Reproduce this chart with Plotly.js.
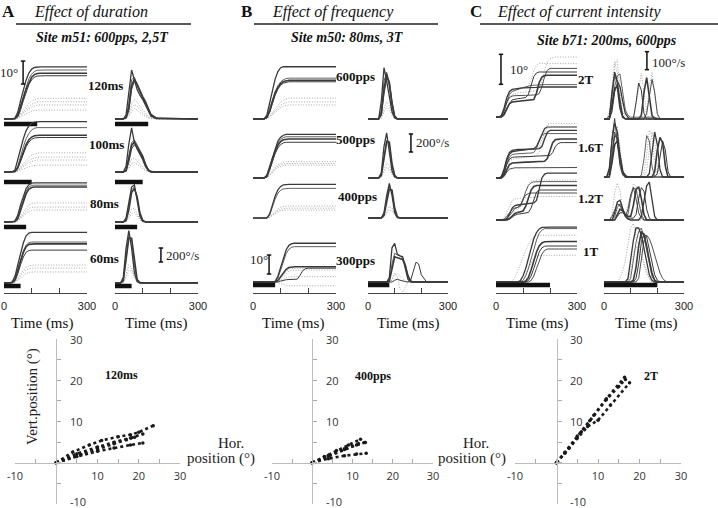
<!DOCTYPE html>
<html><head><meta charset="utf-8">
<script src="https://cdn.plot.ly/plotly-3.0.1.min.js"></script>
<style>html,body{margin:0;padding:0;background:#fff}#chart{width:718px;height:508px}</style>
</head><body><div id="chart"></div>
<script>
// ---------------- DATA ----------------
const tA = [0,20,30,40,50,60,70,80,90,100,110,120,130,150,300];
const tB300 = [0,20,40,60,70,80,90,100,110,120,130,140,150,160,170,180,190,200,220,300];
const tC = [0,10,20,30,40,50,60,70,80,90,100,110,120,130,140,150,160,170,180,190,200,210,220,230,240,250,300];

const A_labels = ['120ms','100ms','80ms','60ms'];
const B_labels = ['600pps','500pps','400pps','300pps'];
const C_labels = ['2T','1.6T','1.2T','1T'];
const A_dur = [120,100,80,60];
const B_dur = [null,null,null,80];
const C_dur = [null,null,null,200];

// Panel A – position (deg)
const A120_pos_solid = [
 [0,0,0,0.5,3,8,13,17,20,21.7,22.4,22.7,22.7,22.7,22.7],
 [0,0,0,0.2,2,6,10.5,14.5,17.5,19.5,20.7,21.2,21.3,21.3,21.3],
 [0,0,0,0.1,1.5,5,9,13,16,18.2,19.3,19.8,19.9,19.9,19.9],
 [0,0,0,0.1,1,4,8,12,15,17,18.2,18.7,18.8,18.8,18.8]];
const A120_pos_dot = [
 [0,0,0,0.2,1,2.5,4,5.5,6.8,7.8,8.5,8.9,9,9,9],
 [0,0,0,0.1,0.8,2,3.3,4.5,5.5,6.4,7,7.4,7.5,7.5,7.5],
 [0,0,0,0.1,0.6,1.6,2.7,3.7,4.5,5.2,5.7,6,6.1,6.1,6.1],
 [0,0,0,0,0.4,1,1.7,2.4,3,3.4,3.7,3.9,3.9,3.9,3.9]];
const A100_pos_solid = [
 [0,0,0,1,5,10,14.5,18,20,21.2,21.7,21.9,21.9,21.9,21.9],
 [0,0,0,0.3,2.5,7,11,14.5,16.8,18.3,19,19.3,19.3,19.3,19.3],
 [0,0,0,0.2,2,5.5,9,12,14,15.2,15.8,16,16,16,16],
 [0,0,0,0.1,1.5,4.5,8,11,13,14.2,14.8,15,15,15,15]];
const A100_pos_dot = [
 [0,0,0,0.1,0.8,2.2,3.8,5.2,6.4,7.3,7.9,8.2,8.3,8.3,8.3],
 [0,0,0,0.1,0.6,1.7,3,4.1,5,5.7,6.2,6.4,6.5,6.5,6.5],
 [0,0,0,0.1,0.5,1.4,2.4,3.3,4,4.6,5,5.2,5.2,5.2,5.2],
 [0,0,0,0,0.3,0.8,1.4,1.9,2.3,2.6,2.9,3,3,3,3]];
const A80_pos_solid = [
 [0,0,0,0.5,3,7.5,11.5,14.5,16.2,16.9,17,17,17,17,17],
 [0,0,0,0.3,2,6,10,13.3,15.2,15.9,16,16,16,16,16],
 [0,0,0,0.2,1.5,5,9,12.3,14.3,15,15.2,15.2,15.2,15.2,15.2]];
const A80_pos_dot = [
 [0,0,0,0.1,0.8,2.5,4.5,6.3,7.5,8.1,8.3,8.3,8.3,8.3,8.3],
 [0,0,0,0.1,0.6,1.9,3.5,4.9,5.9,6.4,6.5,6.5,6.5,6.5,6.5],
 [0,0,0,0,0.4,1.4,2.7,3.8,4.7,5.1,5.2,5.2,5.2,5.2,5.2]];
const A60_pos_solid = [
 [0,0,0.5,3,8,13,17.5,20.5,21.7,22,22,22,22,22,22],
 [0,0,0.3,2,6,10.5,14,16.5,17.5,17.8,17.8,17.8,17.8,17.8,17.8],
 [0,0,0.2,1.5,5,9.5,13.3,15.8,16.8,17,17,17,17,17,17],
 [0,0,0.1,1,4,8,11.3,13.4,14.1,14.3,14.3,14.3,14.3,14.3,14.3]];
const A60_pos_dot = [
 [0,0,0.1,0.6,2,3.8,5.5,6.8,7.5,7.8,7.8,7.8,7.8,7.8,7.8],
 [0,0,0.1,0.5,1.6,3.1,4.5,5.6,6.2,6.5,6.5,6.5,6.5,6.5,6.5],
 [0,0,0,0.3,1.1,2.2,3.3,4.1,4.6,4.8,4.8,4.8,4.8,4.8,4.8]];

// Panel A – velocity (deg/s)
const A120_vel_solid = [
 [0,0,0,60,350,700,560,420,340,280,200,120,40,5,0],
 [0,0,0,30,220,560,600,480,380,310,230,140,50,10,0],
 [0,0,0,20,160,480,570,500,400,320,250,160,60,10,0],
 [0,0,0,10,120,420,540,480,390,310,240,160,70,15,0]];
const A120_vel_dot = [
 [0,0,0,10,80,220,280,240,180,130,80,40,15,0,0],
 [0,0,0,5,60,160,210,180,130,90,50,25,10,0,0],
 [0,0,0,5,40,110,150,130,90,60,35,15,5,0,0]];
const A100_vel_solid = [
 [0,0,0,80,400,630,420,330,260,180,80,20,0,0,0],
 [0,0,0,30,220,420,460,380,310,240,120,40,10,0,0],
 [0,0,0,20,180,380,430,360,290,220,110,30,5,0,0],
 [0,0,0,10,140,330,390,340,270,200,100,30,5,0,0]];
const A100_vel_dot = [
 [0,0,0,10,80,180,200,160,110,70,30,10,0,0,0],
 [0,0,0,5,50,120,140,110,80,50,20,5,0,0,0]];
const A80_vel_solid = [
 [0,0,0,60,300,500,530,300,80,10,0,0,0,0,0],
 [0,0,0,30,220,460,500,340,110,20,0,0,0,0,0],
 [0,0,0,20,170,420,480,360,130,25,0,0,0,0,0]];
const A80_vel_dot = [
 [0,0,0,10,80,180,200,130,40,5,0,0,0,0,0],
 [0,0,0,5,50,120,140,90,30,5,0,0,0,0,0]];
const A60_vel_solid = [
 [0,0,80,500,750,500,150,20,0,0,0,0,0,0,0],
 [0,0,40,380,680,620,250,40,0,0,0,0,0,0,0],
 [0,0,30,320,640,640,300,50,5,0,0,0,0,0,0]];
const A60_vel_dot = [
 [0,0,10,120,260,220,90,15,0,0,0,0,0,0,0],
 [0,0,5,80,180,170,70,10,0,0,0,0,0,0,0]];

// Panel B – position (deg)
const B600_pos_solid = [
 [0,0,0,0,2,8,15,21,25,27,27.5,27.5,27.5,27.5,27.5],
 [0,0,0,0,1,5,10,14.5,17.5,19.5,20.7,21.3,21.5,21.5,21.5],
 [0,0,0,0,0.8,4,9,13.5,16.5,18.6,19.7,20.2,20.4,20.4,20.4],
 [0,0,0,0,0.5,3.5,8,12.5,15.7,17.8,18.9,19.4,19.6,19.6,19.6]];
const B600_pos_dot = [
 [0,0,0,0,0.3,1.5,3.5,5.5,7.5,9,10,10.7,11,11,11],
 [0,0,0,0,0.2,1.2,2.8,4.5,6,7.3,8.2,8.8,9,9,9],
 [0,0,0,0,0.2,1,2.3,3.7,5,6,6.8,7.2,7.4,7.4,7.4]];
const B500_pos_solid = [
 [0,0,0,0,1.5,6,11.5,16,19.5,21.5,22.5,23,23,23,23],
 [0,0,0,0,1,5,10.5,15,18.3,20.3,21.3,21.7,21.7,21.7,21.7],
 [0,0,0,0,0.8,4.5,9.5,14,17.2,19.2,20.1,20.5,20.5,20.5,20.5],
 [0,0,0,0,0.5,4,8.5,12.8,15.8,17.6,18.5,18.8,18.8,18.8,18.8]];
const B500_pos_dot = [
 [0,0,0,0,0.3,1.8,3.8,5.6,7,7.9,8.4,8.6,8.6,8.6,8.6],
 [0,0,0,0,0.2,1.5,3.3,5,6.2,7,7.4,7.6,7.6,7.6,7.6],
 [0,0,0,0,0.2,1.3,2.9,4.4,5.5,6.2,6.6,6.8,6.8,6.8,6.8]];
const B400_pos_solid = [
 [0,0,0,0,0,2,7,11.5,14.8,16.6,17.4,17.7,17.7,17.7,17.7],
 [0,0,0,0,0,1.5,6,10,13,14.6,15.3,15.6,15.6,15.6,15.6]];
const B400_pos_dot = [
 [0,0,0,0,0,0.5,2,3.6,4.9,5.7,6.1,6.3,6.3,6.3,6.3],
 [0,0,0,0,0,0.4,1.6,3,4,4.7,5,5.2,5.2,5.2,5.2],
 [0,0,0,0,0,0.3,1.3,2.4,3.2,3.8,4.1,4.2,4.2,4.2,4.2]];
const B300_pos_solid = [
 [0,0,0,0,0,0.3,3,8,13,17,19.3,20.2,20.4,20.4,20.4,20.4,20.4,20.4,20.4,20.4],
 [0,0,0,0,0,0.2,2,6.5,11,15,17.3,18.3,18.6,18.6,18.6,18.6,18.6,18.6,18.6,18.6],
 [0,0,0,0,0,0,0.8,2.8,5,6.7,7.6,7.9,8,8,8,8,8,8,8,8],
 [0,0,0,0,0,0,0,0.5,1,1.2,1.3,1.3,1.3,1.5,3.5,6,7,7.3,7.3,7.3]];
const B300_pos_dot = [
 [0,0,0,0,0,0,0.5,2,4,5.6,6.6,7,7.2,7.2,7.2,7.2,7.2,7.2,7.2,7.2],
 [0,0,0,0,0,0,0.4,1.8,3.5,4.9,5.8,6.2,6.3,6.3,6.3,6.3,6.3,6.3,6.3,6.3],
 [0,0,0,0,0,0,0.3,1,1.8,2.3,2.6,2.8,2.8,2.8,2.8,2.8,2.8,2.8,2.8,2.8],
 [0,0,0,0,0,0,-0.3,-1,-1.5,-1.8,-2,-2,-2,-2,-2,-2,-2,-2,-2,-2]];

// Panel B – velocity (deg/s)
const B600_vel_solid = [
 [0,0,0,0,200,570,420,250,80,10,0,0,0,0,0],
 [0,0,0,0,100,420,520,350,130,20,0,0,0,0,0],
 [0,0,0,0,60,330,500,400,170,30,0,0,0,0,0],
 [0,0,0,0,40,280,450,420,200,40,5,0,0,0,0]];
const B600_vel_dot = [
 [0,0,0,0,20,120,190,150,60,10,0,0,0,0,0],
 [0,0,0,0,10,80,140,110,40,5,0,0,0,0,0]];
const B500_vel_solid = [
 [0,0,0,0,60,350,500,300,80,10,0,0,0,0,0],
 [0,0,0,0,40,260,420,380,130,20,0,0,0,0,0],
 [0,0,0,0,30,220,400,400,160,30,0,0,0,0,0]];
const B500_vel_dot = [
 [0,0,0,0,15,100,170,140,50,5,0,0,0,0,0],
 [0,0,0,0,10,70,120,100,35,5,0,0,0,0,0]];
const B400_vel_solid = [
 [0,0,0,0,0,60,250,385,250,60,5,0,0,0,0],
 [0,0,0,0,0,40,200,350,300,90,10,0,0,0,0],
 [0,0,0,0,0,30,170,320,310,110,15,0,0,0,0]];
const B400_vel_dot = [
 [0,0,0,0,0,15,70,130,110,40,5,0,0,0,0],
 [0,0,0,0,0,10,50,90,80,30,5,0,0,0,0]];
const B300_vel_solid = [
 [0,0,0,0,0,50,380,430,310,290,280,150,30,0,0,0,0,0,0,0],
 [0,0,0,0,0,20,200,320,300,290,270,200,60,5,0,0,0,0,0,0],
 [0,0,0,0,0,10,150,280,270,260,250,180,70,10,0,0,0,0,0,0],
 [0,0,0,0,0,0,0,20,30,20,10,5,0,20,120,220,200,80,0,0]];
const B300_vel_dot = [
 [0,0,0,0,0,0,30,100,60,-80,-110,-60,0,0,0,0,0,0,0,0],
 [0,0,0,0,0,0,20,80,90,70,40,10,0,0,0,0,0,0,0,0]];

// Panel C – position (deg)
const C2T_pos_solid = [
 [0,0,0.5,3,6.5,8.5,9.2,9.4,9.5,9.6,9.7,9.7,9.8,9.8,9.9,9.9,10,10,10,10,10,10,10,10,10,10,10],
 [0,0,0.3,2,5,7.5,8.5,8.9,9.2,9.5,9.8,10.1,10.3,10.5,10.6,10.7,10.8,10.8,10.8,10.8,10.8,10.8,10.8,10.8,10.8,10.8,10.8],
 [0,0,0,1,3,4.5,5,5.1,5.2,5.3,5.3,5.4,5.4,5.5,5.8,8,11.5,13.3,13.8,13.9,13.9,13.9,13.9,13.9,13.9,13.9,13.9],
 [0,0,0,0.5,2.5,4.5,5.7,6,6.1,6.2,6.3,6.5,7.5,10.5,13.5,14.7,15,15,15,15,15,15,15,15,15,15,15],
 [0,0,0.2,2,5,6.5,7,7.1,7.2,7.2,7.2,7.2,7.3,7.3,7.3,7.4,7.8,10,13.5,15.6,16.2,16.2,16.2,16.2,16.2,16.2,16.2]];
const C2T_pos_dot = [
 [0,0,0,1,4,6.5,7.5,7.8,8,8.1,8.2,8.3,8.4,8.5,8.6,8.8,9.5,12,15.5,18.5,19.5,19.8,20,20,20,20,20],
 [0,0,0.5,3,6,8,8.7,9,9.2,9.4,9.6,9.9,10.5,12.5,15.5,17.2,17.8,17.8,17.8,17.8,17.8,17.8,17.8,17.8,17.8,17.8,17.8]];
const C16T_pos_solid = [
 [0,0,0.5,3,6.5,8.5,9.2,9.4,9.5,9.5,9.5,9.6,9.6,9.6,9.7,9.7,9.8,10.5,13,15.2,15.9,15.9,15.9,15.9,15.9,15.9,15.9],
 [0,0,0.2,2,5,7,7.8,8,8.1,8.1,8.2,8.2,8.3,8.3,8.5,10,12.5,14.3,14.8,14.8,14.8,14.8,14.8,14.8,14.8,14.8,14.8],
 [0,0,0,1,3,4.5,5,5.1,5.2,5.2,5.3,5.3,5.3,5.4,5.4,5.4,5.5,5.5,5.6,6.5,9,11.8,12.8,13,13,13,13],
 [0,0,0,1.5,4.5,6.3,6.9,7,7,7.1,7.1,7.1,7.2,7.2,7.2,7.3,7.3,7.3,7.4,7.4,7.5,8.5,10.5,11.5,11.8,11.8,11.8],
 [0,0,0,0.5,2,3,3.3,3.4,3.4,3.4,3.4,3.5,3.5,3.5,3.5,3.5,3.5,3.5,3.5,3.5,3.5,3.5,3.5,3.5,3.5,3.5,3.5],
 [0,0,0.3,2.5,6,8,8.8,9,9.1,9.2,9.3,9.4,9.5,9.6,9.8,10.5,12.5,15,16.5,17,17,17,17,17,17,17,17]];
const C16T_pos_dot = [
 [0,0,0,1.5,5,7.5,8.5,8.8,9,9.1,9.2,9.3,9.4,9.5,9.6,9.8,10.5,13,16,17.8,18.2,18.2,18.2,18.2,18.2,18.2,18.2],
 [0,0,0,1,3.5,5.5,6.3,6.5,6.6,6.7,6.8,6.9,7,7.1,7.2,7.5,8.5,11,14.5,16.5,17,17,17,17,17,17,17]];
const C12T_pos_solid = [
 [0,0,0,0,0.5,2,4,4.8,5,5.1,5.2,5.3,5.4,5.5,5.7,6.5,10,14,15.3,15.6,15.6,15.6,15.6,15.6,15.6,15.6,15.6],
 [0,0,0,0,0.3,1.5,3,3.8,4.2,4.5,6.5,9.5,11.5,12.4,12.7,12.8,12.8,12.8,12.8,12.8,12.8,12.8,12.8,12.8,12.8,12.8,12.8],
 [0,0,0,0,0,0.5,1.5,2.2,2.5,2.7,3,4.5,7.5,10,11.2,11.5,11.5,11.5,11.5,11.5,11.5,11.5,11.5,11.5,11.5,11.5,11.5],
 [0,0,0,0,0,0.3,1,1.6,1.9,2,2.1,2.2,2.5,4,7,9.3,10,10,10,10,10,10,10,10,10,10,10],
 [0,0,0,0.3,1.2,2.5,3.5,4,4.2,5,7,8.3,8.8,9,9,9,9,9,9,9,9,9,9,9,9,9,9]];
const C12T_pos_dot = [
 [0,0,0,0.5,2.5,5,6.5,7,7.2,7.3,7.3,7.4,7.5,7.6,7.7,7.8,7.8,7.8,7.8,7.8,7.8,7.8,7.8,7.8,7.8,7.8,7.8],
 [0,0,0,0,0.5,1.5,2.5,3,3.5,4.5,7,10,12,13,13.2,13.3,13.3,13.3,13.3,13.3,13.3,13.3,13.3,13.3,13.3,13.3,13.3]];
const C1T_pos_solid = [
 [0,0,0,0,0,0,0,0,0,0.5,2,4.5,8,11.5,14.5,16.5,17.7,18.2,18.3,18.3,18.3,18.3,18.3,18.3,18.3,18.3,18.3],
 [0,0,0,0,0,0,0,0,0,0,0.5,2,4.5,8,11,14,16.2,17.3,17.8,17.8,17.8,17.8,17.8,17.8,17.8,17.8,17.8],
 [0,0,0,0,0,0,0,0,0,0,0,0.3,1.5,4,7,10,12,13,13.4,13.5,13.5,13.5,13.5,13.5,13.5,13.5,13.5],
 [0,0,0,0,0,0,0,0,0,0,0,0,0.5,2,4.5,7.5,10,11.4,11.9,12,12,12,12,12,12,12,12],
 [0,0,0,0,0,0,0,0,0,0,0,0,0,0.5,2,4.5,7,9.3,10.5,11,11,11,11,11,11,11,11]];
const C1T_pos_dot = [
 [0,0,0,0,0,0,0.3,1.5,3.5,6,8.5,10.5,12.5,14,15,15.5,15.6,15.6,15.6,15.6,15.6,15.6,15.6,15.6,15.6,15.6,15.6],
 [0,0,0,0,0,0,0,0,0,0,1,2.5,4.5,6.5,8,8.7,8.9,8.9,8.9,8.9,8.9,8.9,8.9,8.9,8.9,8.9,8.9]];

// Panel C – velocity (deg/s)
const C2T_vel_solid = [
 [0,0,0,150,260,210,180,100,30,10,0,0,0,0,0,0,0,0,0,0,0,0,0,0,0,0,0],
 [0,0,0,60,180,240,250,150,50,20,10,10,10,10,10,10,10,10,10,10,5,0,0,0,0,0,0],
 [0,0,0,80,170,180,60,10,0,0,0,0,0,0,20,150,230,120,20,0,0,0,0,0,0,0,0],
 [0,0,0,40,150,200,120,20,0,0,0,0,90,200,160,30,0,0,0,0,0,0,0,0,0,0,0],
 [0,0,20,120,240,200,80,15,0,0,0,0,0,0,0,0,30,140,220,150,30,0,0,0,0,0,0]];
const C2T_vel_dot = [
 [0,0,0,100,300,330,150,40,10,0,0,0,0,0,0,0,40,180,260,150,20,0,0,0,0,0,0],
 [0,0,40,200,320,250,100,20,0,0,0,0,80,180,255,150,30,0,0,0,0,0,0,0,0,0,0]];
const C16T_vel_solid = [
 [0,0,50,200,300,250,120,30,10,0,0,0,0,0,0,0,0,20,150,250,180,40,0,0,0,0,0],
 [0,0,20,150,250,200,80,20,0,0,0,0,0,0,10,100,230,200,60,0,0,0,0,0,0,0,0],
 [0,0,0,80,180,200,120,30,0,0,0,0,0,0,0,0,0,0,0,30,150,220,190,60,0,0,0],
 [0,0,0,100,230,220,100,20,0,0,0,0,0,0,0,0,0,0,0,0,20,120,200,150,30,0,0],
 [0,0,40,220,325,200,60,10,0,0,0,0,0,0,0,0,0,0,0,0,0,0,0,0,0,0,0]];
const C16T_vel_dot = [
 [0,0,0,120,260,280,150,50,10,0,0,0,0,0,0,20,120,260,230,80,10,0,0,0,0,0,0],
 [0,0,20,150,230,180,80,20,0,0,0,0,0,0,0,0,40,160,250,200,60,0,0,0,0,0,0]];
const C12T_vel_solid = [
 [0,0,0,0,40,100,110,60,20,5,0,0,0,0,20,100,190,210,100,20,0,0,0,0,0,0,0],
 [0,0,0,0,20,70,90,60,30,30,120,180,170,100,30,0,0,0,0,0,0,0,0,0,0,0,0],
 [0,0,0,0,0,30,60,50,30,20,20,80,170,185,120,30,0,0,0,0,0,0,0,0,0,0,0],
 [0,0,0,0,0,20,40,40,25,10,10,10,30,120,180,160,60,10,0,0,0,0,0,0,0,0,0],
 [0,0,0,20,60,90,80,50,20,60,140,180,120,40,10,0,0,0,0,0,0,0,0,0,0,0,0]];
const C12T_vel_dot = [
 [0,0,0,30,150,205,160,60,20,10,0,0,0,0,0,0,0,0,0,0,0,0,0,0,0,0,0],
 [0,0,0,0,20,60,80,60,40,80,150,200,190,120,50,10,0,0,0,0,0,0,0,0,0,0,0]];
const C1T_vel_solid = [
 [0,0,0,0,0,0,0,0,0,20,120,230,300,300,260,180,100,40,10,0,0,0,0,0,0,0,0],
 [0,0,0,0,0,0,0,0,0,0,20,110,220,280,300,250,170,90,30,10,0,0,0,0,0,0,0],
 [0,0,0,0,0,0,0,0,0,0,0,10,80,200,280,260,200,120,50,10,0,0,0,0,0,0,0],
 [0,0,0,0,0,0,0,0,0,0,0,0,20,100,220,270,250,180,100,40,10,0,0,0,0,0,0],
 [0,0,0,0,0,0,0,0,0,0,0,0,0,20,120,230,260,240,200,150,100,50,20,5,0,0,0]];
const C1T_vel_dot = [
 [0,0,0,0,0,0,20,60,120,200,300,325,250,200,150,100,60,20,0,0,0,0,0,0,0,0,0],
 [0,0,0,0,0,0,0,0,0,0,60,150,200,180,140,90,50,20,0,0,0,0,0,0,0,0,0]];

// Bottom: 2-D trajectories (hor, vert in deg)
const xyA_h = [[0,4,8,11,15,18,20,23.5],[0,5,10,14,18,21],[0,5,10,14,18,21],[0,6,10,14,17,19]];
const xyA_v = [[0,2.6,4.3,5.4,6.3,6.8,7.4,9],[0,2.2,3.8,5,6,7],[0,1.5,2.8,3.6,4.3,4.8],[0,2,3.4,4.6,5.6,6.2]];
const xyB_h = [[0,3,6,9,12],[0,4,8,11,13.2],[0,4,8,11,13.4],[0,4,8,11.5,13]];
const xyB_v = [[0,1.5,3,4.3,5.7],[0,1.6,3.2,4.3,4.9],[0,1,1.7,2.1,2.3],[0,1.8,3.4,4.6,4.9]];
const xyC_h = [[0,2,5,8,12,16.4],[0,2,5,7.5,10,13,17.6],[0,3,6,9,12,15,16.6]];
const xyC_v = [[0,2.5,6.5,10.2,15.5,20.7],[0,2.3,6,8.8,10.3,14,19.4],[0,3.5,7.5,11.5,15.3,18.5,20.2]];
const xyLabels = ['120ms','400pps','2T'];
const xyTicks = [-10,-5,0,5,10,15,20,25,30];
const xyTickText = ['-10','','','','10','','20','','30'];
const xyYTickVals = [-10,10,20,30];

// ---------------- LAYOUT / STYLE ----------------
const W = 718, H = 508;
const fx = p => p / W, fy = p => 1 - p / H;
const SERIF = 'Liberation Serif, Times New Roman, serif';
const colPx = [[4,87],[115,198],[253,336],[368,448],[496,577],[604,684]];
const colPpu = [2.3, 0.07, 1.9, 0.09, 3.0, 0.18];
const colBase = [[119,172,222,283],[119,172,222,283],[119,178,218,282],[119,178,218,282],[117,178,220,282],[119,177,220,282]];
const barOff = [5,10,5,3];

const grid = [
 [[tA,A120_pos_solid,A120_pos_dot],[tA,A100_pos_solid,A100_pos_dot],[tA,A80_pos_solid,A80_pos_dot],[tA,A60_pos_solid,A60_pos_dot]],
 [[tA,A120_vel_solid,A120_vel_dot],[tA,A100_vel_solid,A100_vel_dot],[tA,A80_vel_solid,A80_vel_dot],[tA,A60_vel_solid,A60_vel_dot]],
 [[tA,B600_pos_solid,B600_pos_dot],[tA,B500_pos_solid,B500_pos_dot],[tA,B400_pos_solid,B400_pos_dot],[tB300,B300_pos_solid,B300_pos_dot]],
 [[tA,B600_vel_solid,B600_vel_dot],[tA,B500_vel_solid,B500_vel_dot],[tA,B400_vel_solid,B400_vel_dot],[tB300,B300_vel_solid,B300_vel_dot]],
 [[tC,C2T_pos_solid,C2T_pos_dot],[tC,C16T_pos_solid,C16T_pos_dot],[tC,C12T_pos_solid,C12T_pos_dot],[tC,C1T_pos_solid,C1T_pos_dot]],
 [[tC,C2T_vel_solid,C2T_vel_dot],[tC,C16T_vel_solid,C16T_vel_dot],[tC,C12T_vel_solid,C12T_vel_dot],[tC,C1T_vel_solid,C1T_vel_dot]]
];
const durs = [A_dur, A_dur, B_dur, B_dur, C_dur, C_dur];
const solidW = [1.3,0.8,1.6,1.0,0.9,1.2];

const data = [], shapes = [], annotations = [];
const layout = {width:W, height:H, margin:{l:0,r:0,t:0,b:0}, showlegend:false,
  paper_bgcolor:'#ffffff', plot_bgcolor:'rgba(0,0,0,0)',
  font:{family:SERIF, color:'#111'}, shapes, annotations};
let axN = 0;
function newAxes(){ axN++; const s = axN===1 ? '' : String(axN); return {xk:'xaxis'+s, yk:'yaxis'+s, x:'x'+s, y:'y'+s}; }
const axM = [];
const timeFont = {family:'Liberation Sans, Arial, sans-serif', size:11, color:'#222'};

for (let c = 0; c < 6; c++) {
  axM.push([]);
  for (let r = 0; r < 4; r++) {
    const ax = newAxes(); axM[c].push(ax);
    const base = colBase[c][r], ppu = colPpu[c];
    const xa = {domain:[fx(colPx[c][0]), fx(colPx[c][1])], range:[0,300], visible:false, anchor:ax.y, fixedrange:true};
    if (r === 3) {
      Object.assign(xa, {visible:true, anchor:'free', position:fy(293), tickvals:[0,100,200,300], ticktext:['0','','','300'],
        ticks:'inside', ticklen:5, tickcolor:'#444', showline:true, linecolor:'#444', linewidth:1,
        showgrid:false, zeroline:false, tickfont:timeFont, ticklabelstandoff:3});
    }
    layout[ax.xk] = xa;
    layout[ax.yk] = {domain:[fy(base+14), fy(base-72)], range:[-14/ppu, 72/ppu], visible:false, anchor:ax.x, fixedrange:true};
    const [t, solid, dot] = grid[c][r];
    dot.forEach(v => data.push({type:'scatter', mode:'lines', x:t, y:v, xaxis:ax.x, yaxis:ax.y, hoverinfo:'skip',
      line:{color:'#a8a8a8', width:1, dash:'1px,1.6px'}}));
    solid.forEach((v,i) => data.push({type:'scatter', mode:'lines', x:t, y:v, xaxis:ax.x, yaxis:ax.y, hoverinfo:'skip',
      line:{color:'#3a3a3a', width:solidW[i%6]}}));
    const d = durs[c][r];
    if (d) {
      const yb = -barOff[r] / ppu;
      data.push({type:'scatter', mode:'lines', x:[0,d], y:[yb,yb], xaxis:ax.x, yaxis:ax.y, hoverinfo:'skip',
        line:{color:'#111', width:4.5}});
    }
  }
}

// row labels
const rowLab = [[A_labels,[105,106,104.5,104],[85,145,204,258]],[B_labels,[355,355,357,355],[77,140,196,260]],[C_labels,[586,590,590,591],[80,148,199,251]]];
rowLab.forEach(([labs,xs,ys]) => labs.forEach((l,i) => annotations.push({text:'<b>'+l+'</b>', x:fx(xs[i]), y:fy(ys[i]),
  xref:'paper', yref:'paper', showarrow:false, xanchor:'center', yanchor:'middle', font:{size:13, color:'#111'}})));

// scale bars (in data coordinates of a subplot)
const scaleBars = [
  {c:0,r:0,t:69,v0:15.2,len:10,cap:8,label:'10°',lx:9,ly:73,anc:'center'},
  {c:1,r:3,t:166,v0:300,len:200,cap:8,label:'200°/s',lx:164,ly:255,anc:'left'},
  {c:2,r:3,t:58,v0:4.2,len:10,cap:8,label:'10°',lx:259,ly:259,anc:'center'},
  {c:3,r:1,t:161,v0:289,len:200,cap:8,label:'200°/s',lx:414,ly:143,anc:'left'},
  {c:4,r:0,t:18.5,v0:10.9,len:10,cap:8,label:'10°',lx:508,ly:70,anc:'left'},
  {c:5,r:0,t:161,v0:274,len:100,cap:8,label:'100°/s',lx:650,ly:62,anc:'left'}
];
scaleBars.forEach(s => {
  const ax = axM[s.c][s.r];
  const ln = {type:'line', xref:ax.x, yref:ax.y, line:{color:'#111', width:1.5}};
  shapes.push(Object.assign({}, ln, {x0:s.t, x1:s.t, y0:s.v0, y1:s.v0+s.len}));
  shapes.push(Object.assign({}, ln, {x0:s.t-s.cap, x1:s.t+s.cap, y0:s.v0, y1:s.v0}));
  shapes.push(Object.assign({}, ln, {x0:s.t-s.cap, x1:s.t+s.cap, y0:s.v0+s.len, y1:s.v0+s.len}));
  annotations.push({text:s.label, x:fx(s.lx), y:fy(s.ly), xref:'paper', yref:'paper', showarrow:false,
    xanchor:s.anc, yanchor:'middle', font:{size:13, color:'#222'}});
});

// Time (ms) labels
[42,156,293,408,537,646].forEach(x => annotations.push({text:'Time (ms)', x:fx(x), y:fy(323), xref:'paper', yref:'paper',
  showarrow:false, xanchor:'center', yanchor:'middle', font:{size:15, color:'#111'}}));

// headers
const heads = [
  {L:'A', lx:8, title:'Effect of duration', tx:91, line:[16,191], site:'Site m51: 600pps, 2,5T', sx:102, sy:38},
  {L:'B', lx:246, title:'Effect of frequency', tx:333, line:[254,438], site:'Site m50: 80ms, 3T', sx:347, sy:38},
  {L:'C', lx:476, title:'Effect of current intensity', tx:579, line:[480,718], site:'Site b71: 200ms, 600pps', sx:607, sy:41}
];
heads.forEach(h => {
  annotations.push({text:'<b>'+h.L+'</b>', x:fx(h.lx), y:fy(12), xref:'paper', yref:'paper', showarrow:false,
    xanchor:'center', yanchor:'middle', font:{size:17, color:'#111'}});
  annotations.push({text:'<i>'+h.title+'</i>', x:fx(h.tx), y:fy(12), xref:'paper', yref:'paper', showarrow:false,
    xanchor:'center', yanchor:'middle', font:{size:16, color:'#111'}});
  annotations.push({text:'<b><i>'+h.site+'</i></b>', x:fx(h.sx), y:fy(h.sy), xref:'paper', yref:'paper', showarrow:false,
    xanchor:'center', yanchor:'middle', font:{size:14, color:'#111'}});
  shapes.push({type:'line', xref:'paper', yref:'paper', x0:fx(h.line[0]), x1:fx(h.line[1]), y0:fy(24), y1:fy(24),
    line:{color:'#222', width:1.5}});
});

// bottom XY plots: axes cross at the origin; y tick labels sit just right of the y axis (placed in data coords)
const xyPx = [[15,180],[272,433],[515,681]];
const xyH = [xyA_h, xyB_h, xyC_h], xyV = [xyA_v, xyB_v, xyC_v];
const xyLabPos = [[122,375],[373,376],[651,376]];
const tfont = {family:'Open Sans', size:11, color:'#333'};
for (let k = 0; k < 3; k++) {
  const ax = newAxes();
  const [x0,x1] = xyPx[k];
  const xZero = x0 + (x1-x0)/4;
  layout[ax.xk] = {domain:[fx(x0),fx(x1)], range:[-10,30], anchor:'free', position:fy(463),
    tickvals:xyTicks, ticktext:xyTickText, ticks:'inside', ticklen:4, tickcolor:'#aaa', showline:true, linecolor:'#bdbdbd',
    linewidth:1, showgrid:false, zeroline:false, tickfont:tfont, ticklabelstandoff:3, fixedrange:true};
  layout[ax.yk] = {domain:[fy(504),fy(339)], range:[-10,30], anchor:'free', position:fx(xZero), side:'left',
    tickvals:xyTicks, ticks:'inside', ticklen:4, tickcolor:'#aaa', showticklabels:false, showline:true, linecolor:'#bdbdbd',
    linewidth:1, showgrid:false, zeroline:false, fixedrange:true};
  xyYTickVals.forEach(v => annotations.push({text:String(v), x:2.8, y:v, xref:ax.x, yref:ax.y, showarrow:false,
    xanchor:'left', yanchor:'middle', yshift:(v < 0 ? 3 : 0), font:tfont}));
  xyH[k].forEach((h,i) => data.push({type:'scatter', mode:'lines+markers', x:h, y:xyV[k][i], xaxis:ax.x, yaxis:ax.y, hoverinfo:'skip',
    line:{color:'#1a1a1a', width:2.6, dash:'dot'}, marker:{size:3.5, color:'#1a1a1a'}}));
  annotations.push({text:'<b>'+xyLabels[k]+'</b>', x:fx(xyLabPos[k][0]), y:fy(xyLabPos[k][1]), xref:'paper', yref:'paper',
    showarrow:false, xanchor:'center', yanchor:'middle', font:{size:12, color:'#111'}});
}
annotations.push({text:'Vert.position (°)', x:fx(32), y:fy(397), xref:'paper', yref:'paper', showarrow:false, textangle:-90,
  xanchor:'center', yanchor:'middle', font:{size:15, color:'#222'}});
[[231,443,'Hor.'],[221,458,'position (°)'],[476,443,'Hor.'],[472,458,'position (°)']].forEach(([x,y,t]) =>
  annotations.push({text:t, x:fx(x), y:fy(y), xref:'paper', yref:'paper', showarrow:false, xanchor:'center', yanchor:'middle',
    font:{size:15, color:'#222'}}));

Plotly.newPlot('chart', data, layout, {staticPlot:true, displayModeBar:false});
</script></body></html>
